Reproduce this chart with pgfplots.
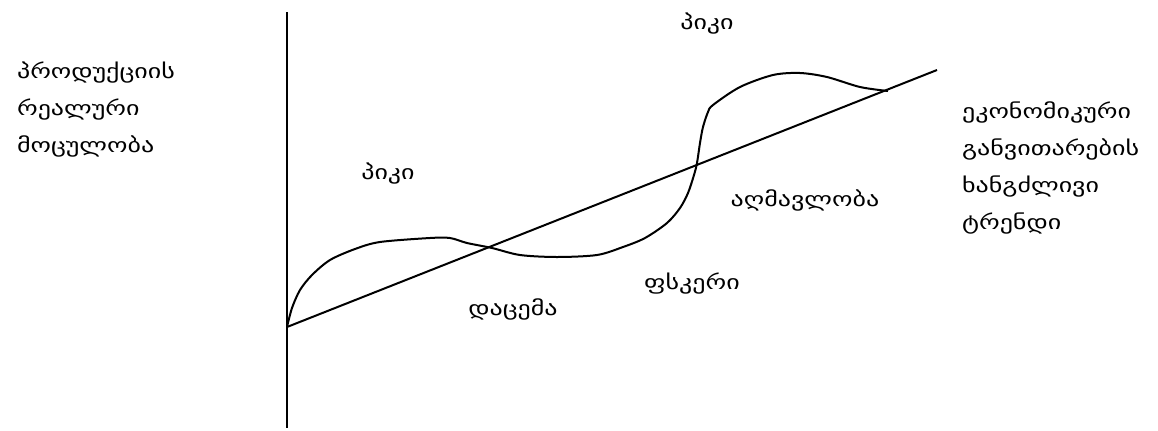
\documentclass[border=0pt]{standalone}
\usepackage{fontspec}
\setmainfont{DejaVu Sans}[FakeStretch=1.3]
\usepackage{pgfplots}
\pgfplotsset{compat=1.18}
\begin{document}
\begin{tikzpicture}
\begin{axis}[
  scale only axis, width=579pt, height=215pt,
  xmin=0, xmax=1158, ymin=0, ymax=430, y dir=reverse,
  hide axis, clip=false,
  every node/.style={font=\fontsize{15.5}{18.5}\selectfont, inner sep=0pt},
]
\path (axis cs:0,0) rectangle (axis cs:1158,430);
\addplot[black, line width=1pt] coordinates {(287,12) (287,428)};
\addplot[black, line width=1pt] coordinates {(287,327) (937,70)};
\addplot[black, line width=1pt, smooth, tension=0.5] coordinates {
(287,327) (292,308) (300,290) (312,275) (330,260) (355,249) (380,242)
(430,238) (450,238) (467,243) (492,248) (520,255) (557,257) (597,255)
(623,247) (645,238) (667,223) (680,208) (688,193) (694,175) (697,163)
(700,143) (703,127) (708,112) (713,105) (740,87) (773,75) (800,73)
(827,77) (860,87) (888,91)};
\node[anchor=base west] at (axis cs:10,78) {პროდუქციის};
\node[anchor=base west] at (axis cs:10,115) {რეალური};
\node[anchor=base west] at (axis cs:10,152) {მოცულობა};
\node[anchor=base west] at (axis cs:955,118) {ეკონომიკური};
\node[anchor=base west] at (axis cs:955,155) {განვითარების};
\node[anchor=base west] at (axis cs:955,192) {ხანგძლივი};
\node[anchor=base west] at (axis cs:955,229) {ტრენდი};
\node[anchor=base] at (axis cs:707,29) {პიკი};
\node[anchor=base] at (axis cs:388,179) {პიკი};
\node[anchor=base] at (axis cs:513,315) {დაცემა};
\node[anchor=base] at (axis cs:692,289) {ფსკერი};
\node[anchor=base] at (axis cs:805,206) {აღმავლობა};
\end{axis}
\end{tikzpicture}
\end{document}
